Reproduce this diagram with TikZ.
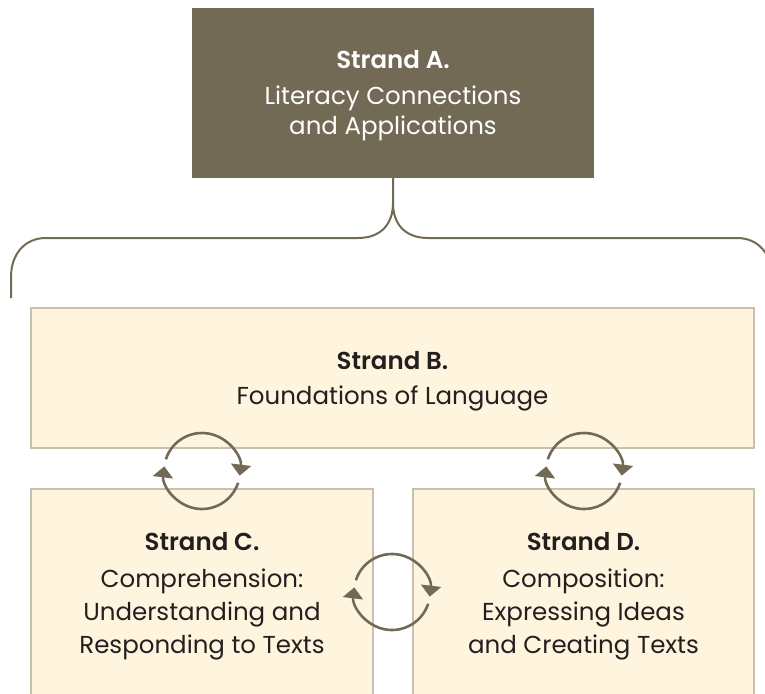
\documentclass[tikz,border=0pt]{standalone}
\usepackage{fontspec}
\setmainfont{Poppins}[BoldFont={Poppins SemiBold}]
\usetikzlibrary{arrows.meta}
\definecolor{olive}{HTML}{736A56}
\definecolor{cream}{HTML}{FFF5DE}
\definecolor{edge}{HTML}{C8C0B0}
\definecolor{ink}{HTML}{231F20}
\tikzset{
  darkbox/.style={draw=none,fill=olive,minimum width=402pt,minimum height=170pt,inner sep=0pt},
  lightbox/.style={draw=edge,line width=2pt,fill=cream,inner sep=0pt},
  wtxt/.style={text=white,align=center,font=\fontsize{24.5}{30}\selectfont},
  btxt/.style={text=ink,align=center,font=\fontsize{24.5}{33}\selectfont},
  brace/.style={draw=olive,line width=2pt},
  cyc/.style={draw=olive,line width=2.6pt,-{Triangle[width=20pt,length=11pt]}}
}
\begin{document}
\begin{tikzpicture}[x=1pt,y=-1pt]
\useasboundingbox (0,0) rectangle (765,693);
\clip (0,0) rectangle (765,693);
% boxes
\node[darkbox] (A) at (393,93) {};
\node[lightbox,minimum width=723pt,minimum height=140pt] (B) at (392.5,378) {};
\node[lightbox,minimum width=342pt,minimum height=240pt] (C) at (202,609) {};
\node[lightbox,minimum width=341pt,minimum height=240pt] (D) at (583.5,609) {};
% texts
\node[wtxt] (tA) at (393,96) {\textbf{Strand A.}\\[6pt]Literacy Connections\\and Applications};
\node[btxt] (tB) at (392.5,381) {\textbf{Strand B.}\\[2pt]Foundations of Language};
\node[btxt] (tC) at (202,596.5) {\textbf{Strand C.}\\[4pt]Comprehension:\\Understanding and\\Responding to Texts};
\node[btxt] (tD) at (583.5,596.5) {\textbf{Strand D.}\\[4pt]Composition:\\Expressing Ideas\\and Creating Texts};
% brace
\coordinate (m) at (393,203);
\coordinate (lend) at (11,298);
\coordinate (rend) at (772,277);
\draw[brace] (A.south) -- (m) .. controls (393,225) and (380,238) .. (358,238) -- (46,238) .. controls (24,238) and (11,255) .. (11,277) -- (lend);
\draw[brace] (m) .. controls (393,225) and (406,238) .. (428,238) -- (737,238) .. controls (759,238) and (772,255) .. (rend);
% cycle arrows
\coordinate (c1) at (202,471);
\coordinate (c2) at (392,592);
\coordinate (c3) at (584,471);
\foreach \c in {c1,c2,c3}{
  \draw[cyc] ([shift={(198:38)}]\c) arc[start angle=198,end angle=367,radius=38];
  \draw[cyc] ([shift={(18:38)}]\c) arc[start angle=18,end angle=187,radius=38];
}
\end{tikzpicture}
\end{document}
